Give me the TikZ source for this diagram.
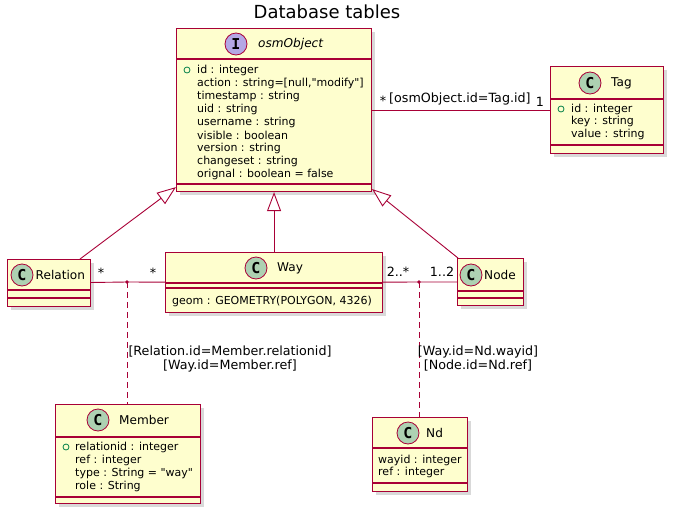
\documentclass[tikz,border=0pt]{standalone}
\usepackage{fontspec}
\setmainfont{DejaVu Sans}[Ligatures=TeXOff]
\newfontfamily\monofam{DejaVu Sans Mono}
\usetikzlibrary{arrows.meta,shadows,calc}
\definecolor{bord}{HTML}{A80036}
\definecolor{boxfill}{HTML}{FEFECE}
\definecolor{circC}{HTML}{ADD1B2}
\definecolor{circI}{HTML}{B4A7E5}
\definecolor{fieldg}{HTML}{038048}
\begin{document}
\begin{tikzpicture}[x=1pt,y=-1pt,
  cls/.style={draw=bord, fill=boxfill, line width=1.1pt, inner sep=0, anchor=north west,
    drop shadow={shadow xshift=3.5pt, shadow yshift=-3.5pt, opacity=0.3}},
  sepl/.style={draw=bord, line width=1.1pt},
  stc/.style={circle, draw=bord, line width=0.8pt, fill=circC, minimum size=22pt, inner sep=0,
    font=\monofam\bfseries\fontsize{15}{15}\selectfont},
  sti/.style={stc, fill=circI},
  cname/.style={anchor=west, inner sep=0, font=\fontsize{12.1}{14}\selectfont},
  fld/.style={anchor=west, inner sep=0, font=\fontsize{11}{13}\selectfont},
  fmark/.style={draw=fieldg, line width=0.8pt},
  conn/.style={draw=bord, line width=0.9pt},
  inh/.style={draw=bord, line width=0.9pt, -{Triangle[open, length=19pt, width=14pt, fill=white]}},
  lbl/.style={inner sep=0, font=\fontsize{12.7}{15}\selectfont},
]
\useasboundingbox (0,0) rectangle (675,517);

\node[font=\fontsize{18}{20}\selectfont] (title) at (327,12) {Database tables};

% osmObject
\node[cls, minimum width=195pt, minimum height=163pt] (osm) at (176,28) {};
\draw[sepl] (osm.north west |- 0,59) -- (osm.north east |- 0,59);
\draw[sepl] (osm.north west |- 0,184) -- (osm.north east |- 0,184);
\node[sti] (osmI) at (236,44) {I};
\node[cname, font=\itshape\fontsize{12.1}{14}\selectfont] (osmN) at (258,44) {osmObject};
\draw[fmark] (187,70) circle (3);
\node[fld] (o1) at (197,70) {id : integer};
\node[fld] (o2) at (197,83) {action : string=[null,"modify"]};
\node[fld] (o3) at (197,96) {timestamp : string};
\node[fld] (o4) at (197,109) {uid : string};
\node[fld] (o5) at (197,122) {username : string};
\node[fld] (o6) at (197,135) {visible : boolean};
\node[fld] (o7) at (197,148) {version : string};
\node[fld] (o8) at (197,161) {changeset : string};
\node[fld] (o9) at (197,174) {orignal : boolean = false};

% Tag
\node[cls, minimum width=113pt, minimum height=87pt] (tag) at (550,66) {};
\draw[sepl] (tag.north west |- 0,99) -- (tag.north east |- 0,99);
\draw[sepl] (tag.north west |- 0,145) -- (tag.north east |- 0,145);
\node[stc] (tagC) at (590,83) {C};
\node[cname] (tagN) at (611,83) {Tag};
\draw[fmark] (561,109) circle (3);
\node[fld] (t1) at (571,109) {id : integer};
\node[fld] (t2) at (571,121.5) {key : string};
\node[fld] (t3) at (571,134) {value : string};

% Relation
\node[cls, minimum width=83pt, minimum height=47pt] (rel) at (7,259) {};
\draw[sepl] (rel.north west |- 0,290) -- (rel.north east |- 0,290);
\draw[sepl] (rel.north west |- 0,298) -- (rel.north east |- 0,298);
\node[stc] (relC) at (22,275) {C};
\node[cname] (relN) at (35.5,275) {Relation};

% Way
\node[cls, minimum width=217pt, minimum height=60pt] (way) at (165,252) {};
\draw[sepl] (way.north west |- 0,283) -- (way.north east |- 0,283);
\draw[sepl] (way.north west |- 0,288) -- (way.north east |- 0,288);
\node[stc] (wayC) at (256,268) {C};
\node[cname] (wayN) at (277,268) {Way};
\node[fld] (w1) at (172,301) {geom : GEOMETRY(POLYGON, 4326)};

% Node
\node[cls, minimum width=66pt, minimum height=47pt] (nodec) at (457,258) {};
\draw[sepl] (nodec.north west |- 0,291) -- (nodec.north east |- 0,291);
\draw[sepl] (nodec.north west |- 0,298) -- (nodec.north east |- 0,298);
\node[stc] (nodeC) at (471,275) {C};
\node[cname] (nodeN) at (484,275) {Node};

% Member
\node[cls, minimum width=145pt, minimum height=99pt] (member) at (55,404) {};
\draw[sepl] (member.north west |- 0,437) -- (member.north east |- 0,437);
\draw[sepl] (member.north west |- 0,497) -- (member.north east |- 0,497);
\node[stc] (memC) at (98,420) {C};
\node[cname] (memN) at (119,420) {Member};
\draw[fmark] (66,447) circle (3);
\node[fld] (m1) at (75,447) {relationid : integer};
\node[fld] (m2) at (75,460) {ref : integer};
\node[fld] (m3) at (75,473) {type : String = "way"};
\node[fld] (m4) at (75,486) {role : String};

% Nd
\node[cls, minimum width=95pt, minimum height=74pt] (nd) at (372,417) {};
\draw[sepl] (nd.north west |- 0,448) -- (nd.north east |- 0,448);
\draw[sepl] (nd.north west |- 0,483) -- (nd.north east |- 0,483);
\node[stc] (ndC) at (408,433) {C};
\node[cname] (ndN) at (426,433) {Nd};
\node[fld] (n1) at (378,460) {wayid : integer};
\node[fld] (n2) at (378,472) {ref : integer};

% connectors
\draw[conn] (osm) -- (tag);
\node[lbl] (lt1) at (383,101) {*};
\node[lbl, anchor=west] (lt2) at (389,99) {[osmObject.id=Tag.id]};
\node[lbl] (lt3) at (540,102) {1};

\coordinate (dA) at (127,282);
\coordinate (dB) at (419,282);
\draw[conn] (rel) -- (dA) -- (way);
\draw[conn] (way) -- (dB) -- (nodec);
\fill[bord] (dA) circle (1.8);
\fill[bord] (dB) circle (1.8);
\draw[conn, dash pattern=on 6pt off 4pt] (dA) -- (dA |- member.north);
\draw[conn, dash pattern=on 6pt off 4pt] (dB) -- (dB |- nd.north);

\node[lbl] (lr1) at (101,273) {*};
\node[lbl] (lr2) at (153,273) {*};
\node[lbl] (ln1) at (398,272) {2..*};
\node[lbl] (ln2) at (442,272) {1..2};

\node[lbl, align=center] (lm) at (230,359) {[Relation.id=Member.relationid]\\[-1pt][Way.id=Member.ref]};
\node[lbl, align=center] (lnd) at (478,359) {[Way.id=Nd.wayid]\\[-1pt][Node.id=Nd.ref]};

% inheritance
\draw[inh] ($(rel.north west)+(73,0)$) -- ($(osm.south west)+(0,-5)$);
\draw[inh] (way.north) -- (osm.south);
\draw[inh] ($(nodec.north west)+(1,0)$) -- ($(osm.south east)+(0,-3)$);
\end{tikzpicture}
\end{document}
